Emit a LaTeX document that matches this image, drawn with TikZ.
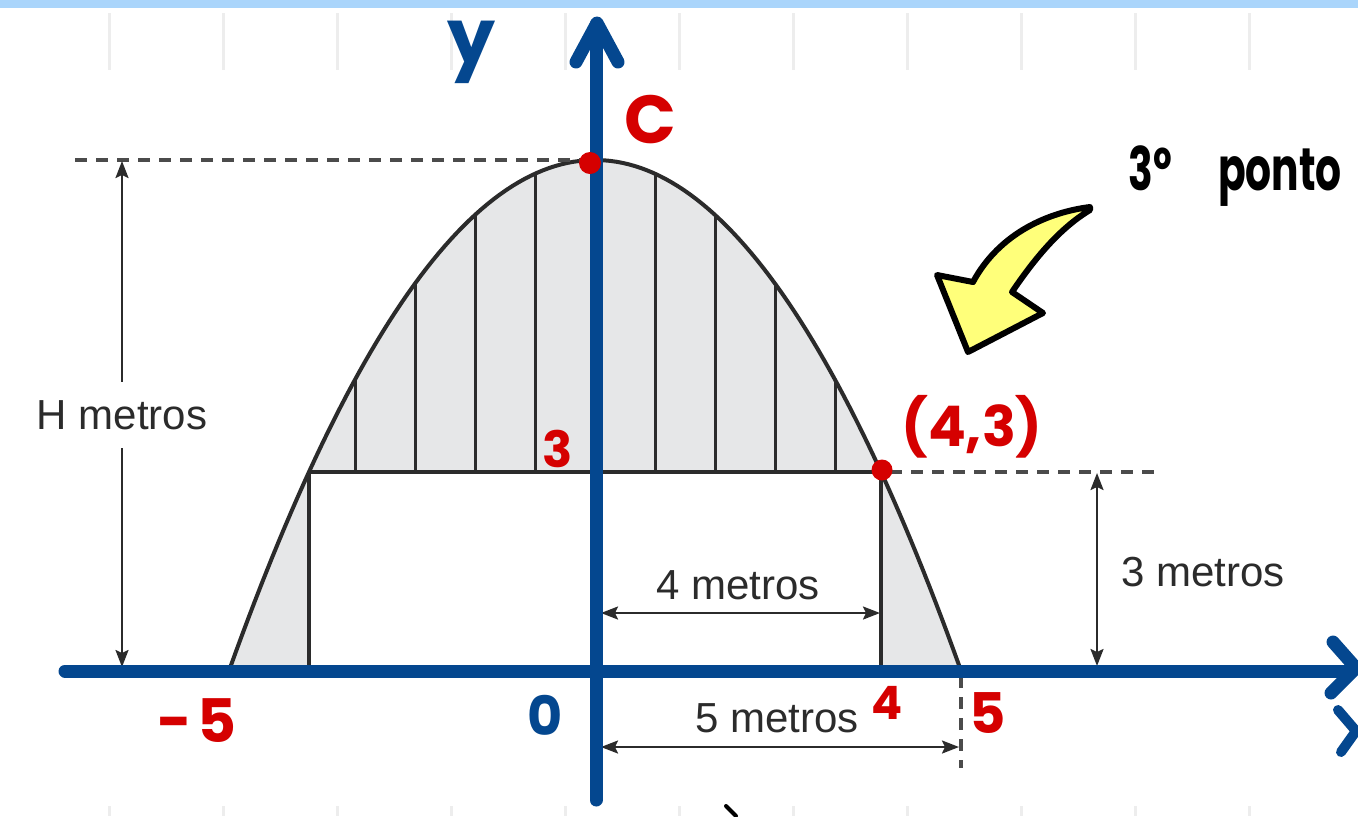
\documentclass[tikz,border=0pt]{standalone}
\usepackage{fontspec}
\setmainfont{Liberation Sans}
\newfontfamily\hand{Poppins}
\usetikzlibrary{arrows.meta}
\definecolor{axblue}{HTML}{04478F}
\definecolor{hred}{HTML}{D50000}
\definecolor{shadec}{HTML}{E6E7E8}
\definecolor{ink}{HTML}{2B2B2B}
\definecolor{topbar}{HTML}{AAD5FB}
\definecolor{gridc}{HTML}{EDEDED}
\definecolor{hl}{HTML}{FFFF7A}
\newcommand\parab[1]{160+508*((#1-595)/365)^2}
\begin{document}
\begin{tikzpicture}[x=0.5pt,y=-0.5pt,
  axis/.style={axblue,line width=6.5pt,line cap=round,line join=round},
  curve/.style={ink,line width=2pt},
  hatch/.style={ink,line width=1.5pt},
  dim/.style={ink,line width=1.1pt,{Stealth[length=8.5pt,width=6.5pt,inset=1.5pt]}-{Stealth[length=8.5pt,width=6.5pt,inset=1.5pt]}},
  guide/.style={ink!85,line width=1.6pt,dash pattern=on 6pt off 4.5pt},
  mlabel/.style={text=ink,font=\fontsize{21}{21}\selectfont,inner sep=1pt},
  hlabel/.style={text=hred,font=\hand\bfseries\fontsize{26}{26}\selectfont,inner sep=0pt},
  reddot/.style={circle,fill=hred,inner sep=0pt,minimum size=11pt},
]
\useasboundingbox (0,0) rectangle (1358,816);
\clip (0,0) rectangle (1358,816);
% background and page
\fill[white] (0,0) rectangle (1358,816);
\fill[topbar] (0,0) rectangle (1358,8);
\foreach \g in {109,223,337,451,565,679,793,907,1021,1135,1249}{
  \draw[gridc,line width=1.5pt] (\g,13) -- (\g,70);
  \draw[gridc,line width=1.5pt] (\g,806) -- (\g,816);
}
% shaded regions
\fill[shadec] plot[domain=309:881,samples=80] (\x,{\parab{\x}}) -- cycle;
\fill[shadec] (230,668) -- plot[domain=230:309,samples=20] (\x,{\parab{\x}}) -- (309,668) -- cycle;
\fill[shadec] plot[domain=881:960,samples=20] (\x,{\parab{\x}}) -- (881,668) -- cycle;
% hatching
\foreach \h in {355,415,475,535,655,715,775,835}{
  \draw[hatch] (\h,472) -- (\h,{\parab{\h}});
}
% parabola, chord, supports
\draw[curve] plot[domain=230:960,samples=120] (\x,{\parab{\x}});
\coordinate (cl) at (309,472);
\coordinate (cr) at (881,472);
\coordinate (fl) at (309,668);
\coordinate (fr) at (881,668);
\draw[curve] (cl) -- (cr);
\draw[curve] (cl) -- (fl);
\draw[curve] (cr) -- (fr);
% guides
\coordinate (gt1) at (75,160);
\coordinate (gt2) at (585,160);
\coordinate (gr1) at (890,472);
\coordinate (gr2) at (1157,472);
\coordinate (gv1) at (961,676);
\coordinate (gv2) at (961,768);
\draw[guide] (gt1) -- (gt2);
\draw[guide] (gr1) -- (gr2);
\draw[guide] (gv1) -- (gv2);
% dimensions
\coordinate (Ht) at (122,161);
\coordinate (Hb) at (122,667);
\draw[dim] (Ht) -- (Hb);
\node[mlabel,fill=white,inner ysep=9pt] (Hlab) at (122,415) {H metros};
\coordinate (t3) at (1097,473);
\coordinate (b3) at (1097,666);
\draw[dim] (t3) -- (b3);
\node[mlabel] (lab3) at (1203,572) {3 metros};
\coordinate (l4) at (601,613);
\coordinate (r4) at (880,613);
\draw[dim] (l4) -- (r4);
\node[mlabel] (lab4) at (738,585) {4 metros};
\coordinate (l5) at (601,747);
\coordinate (r5) at (959,747);
\draw[dim] (l5) -- (r5);
\node[mlabel] (lab5) at (777,718) {5 metros};
% axes
\coordinate (xs) at (65,671);
\coordinate (xe) at (1352,671);
\coordinate (ys) at (596,800);
\coordinate (ye) at (596,24);
\draw[axis] (xs) -- (xe);
\draw[axis] (1333,642) -- (1356,668) -- (1331,693);
\draw[axis] (ys) -- (ye);
\draw[axis] (576,62) -- (597,23) -- (618,62);
\draw[axblue,line width=5pt,line cap=round,line join=round] (1338,710) -- (1356,731) -- (1341,752);
% hand labels
\node[hlabel,text=axblue,font=\hand\bfseries\fontsize{38}{38}\selectfont] (ylab) at (472,52) {y};
\node[hlabel,font=\hand\bfseries\fontsize{34}{34}\selectfont] (Clab) at (650,120) {C};
\node[hlabel,font=\hand\bfseries\fontsize{25}{25}\selectfont] (lab3y) at (558,449) {3};
\node[hlabel,font=\hand\bfseries\fontsize{28}{28}\selectfont] (pt43) at (972,427) {(4,3)};
\node[hlabel,font=\hand\bfseries\fontsize{30}{30}\selectfont] (m5) at (197,721) {-\hspace{3pt}5};
\node[hlabel,text=axblue,font=\hand\bfseries\fontsize{27}{27}\selectfont] (zero) at (545,715) {0};
\node[hlabel,font=\hand\bfseries\fontsize{23}{23}\selectfont] (four) at (887,703) {4};
\node[hlabel,font=\hand\bfseries\fontsize{28}{28}\selectfont] (five) at (988,713) {5};
\node[reddot] (C) at (590,163) {};
\node[reddot,minimum size=10.5pt] (P) at (882,470) {};
% yellow arrow
\filldraw[fill=hl,draw=black,line width=3pt,line join=round,line cap=round]
  (1090,207) .. controls (1050,212) and (1000,232) .. (973,282)
  -- (937,275) -- (968,352) -- (1043,313) -- (1012,292)
  .. controls (1035,258) and (1060,228) .. (1090,210) -- cycle;
\node[anchor=west,text=black,font=\hand\bfseries\fontsize{30}{30}\selectfont,inner sep=0pt] (ponto) at (1128,176) {\scalebox{0.68}[1]{3º\hspace{34pt}ponto}};
\draw[black,line width=2pt,line cap=round] (726,806) -- (736,816);
\end{tikzpicture}
\end{document}
